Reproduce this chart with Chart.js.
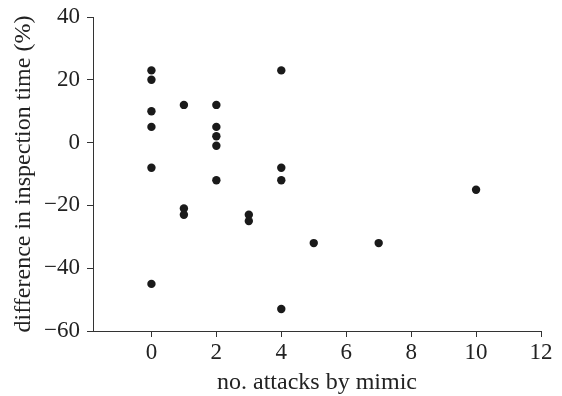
<!DOCTYPE html>
<html>
<head>
<meta charset="utf-8">
<script src="https://cdn.jsdelivr.net/npm/chart.js@4/dist/chart.umd.min.js"></script>
<style>
  html, body { margin: 0; padding: 0; background: #fff; }
  #wrap { width: 562px; height: 396px; }
</style>
</head>
<body>
<div id="wrap"><canvas id="mimicChart"></canvas></div>
<script>
// attacks by mimic (x) vs difference in inspection time % (y)
const attacks = [0, 0, 0, 0, 0, 0, 1, 1, 1, 2, 2, 2, 2, 2, 3, 3, 4, 4, 4, 4, 5, 7, 10];
const inspectDiff = [23, 20, 10, 5, -8, -45, 12, -21, -23, 12, 5, 2, -1, -12, -23, -25, 23, -8, -12, -53, -32, -32, -15];

const xTicks = [0, 2, 4, 6, 8, 10, 12];
const yTicks = [40, 20, 0, -20, -40, -60];

const points = attacks.map((a, i) => ({ x: a, y: inspectDiff[i] }));

const fam = "'Liberation Serif', 'DejaVu Serif', serif";
const tickFont = { family: fam, size: 23, lineHeight: 1.2 };
const titleFont = { family: fam, size: 24, lineHeight: 1.1 };
const axisColor = "#333";

const ctx = document.getElementById("mimicChart").getContext("2d");
new Chart(ctx, {
  type: "scatter",
  data: {
    datasets: [{
      data: points,
      backgroundColor: "#1a1a1a",
      borderWidth: 0,
      pointRadius: 4.2,
      pointHoverRadius: 4.2
    }]
  },
  options: {
    responsive: true,
    maintainAspectRatio: false,
    animation: false,
    layout: { padding: { top: 17, right: 21, left: 0, bottom: 0 } },
    plugins: { legend: { display: false }, tooltip: { enabled: false } },
    scales: {
      x: {
        type: "linear",
        min: -1.8,
        max: 12,
        afterBuildTicks: s => { s.ticks = xTicks.map(v => ({ value: v })); },
        afterFit: s => { s.height = 65; s.paddingLeft = 0; s.paddingRight = 0; },
        grid: { drawOnChartArea: false, drawTicks: true, tickLength: 6, color: axisColor },
        border: { display: true, color: axisColor, width: 1 },
        ticks: { color: "#222", font: tickFont, padding: 2, maxRotation: 0 },
        title: { display: true, text: "no. attacks by mimic", color: "#222", font: titleFont, padding: { top: 0, bottom: 0 } }
      },
      y: {
        min: -60,
        max: 40,
        afterBuildTicks: s => { s.ticks = yTicks.map(v => ({ value: v })); },
        afterFit: s => { s.width = 93; s.paddingTop = 0; s.paddingBottom = 0; },
        grid: { drawOnChartArea: false, drawTicks: true, tickLength: 6, color: axisColor },
        border: { display: true, color: axisColor, width: 1 },
        ticks: { color: "#222", font: tickFont, padding: 7, callback: v => String(v).replace("-", "\u2212") },
        title: { display: true, text: "difference in inspection time (%)", color: "#222", font: titleFont, padding: { top: 11, bottom: 0 } }
      }
    }
  }
});
</script>
</body>
</html>
